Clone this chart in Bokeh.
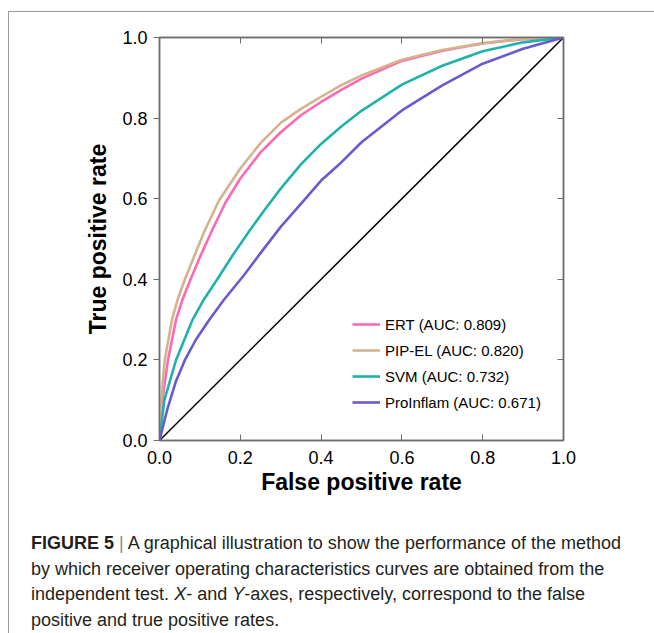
from bokeh.plotting import figure
from bokeh.layouts import column
from bokeh.models import (Range1d, FixedTicker, PrintfTickFormatter, LinearAxis,
                          Legend, LegendItem, Div)
from bokeh.embed import file_html
from bokeh.resources import INLINE

# ---------------- data ----------------
tick_values = [0.0, 0.2, 0.4, 0.6, 0.8, 1.0]

ert_fpr = [0, 0.007, 0.021, 0.041, 0.057, 0.077, 0.1, 0.13, 0.163, 0.2, 0.25, 0.3, 0.35, 0.4, 0.45, 0.5, 0.6, 0.7, 0.8, 0.9, 1.0]
ert_tpr = [0, 0.1, 0.2, 0.3, 0.35, 0.4, 0.455, 0.521, 0.59, 0.65, 0.715, 0.765, 0.807, 0.84, 0.87, 0.898, 0.942, 0.967, 0.985, 0.996, 1.0]

pip_fpr = [0, 0.004, 0.013, 0.031, 0.045, 0.063, 0.085, 0.112, 0.147, 0.2, 0.25, 0.3, 0.35, 0.4, 0.45, 0.5, 0.6, 0.7, 0.8, 0.9, 1.0]
pip_tpr = [0, 0.1, 0.2, 0.3, 0.35, 0.4, 0.455, 0.521, 0.595, 0.675, 0.738, 0.788, 0.823, 0.853, 0.882, 0.906, 0.945, 0.969, 0.986, 0.997, 1.0]

svm_fpr = [0, 0.012, 0.041, 0.081, 0.11, 0.143, 0.18, 0.221, 0.26, 0.3, 0.35, 0.4, 0.45, 0.5, 0.6, 0.7, 0.8, 0.9, 1.0]
svm_tpr = [0, 0.1, 0.2, 0.298, 0.35, 0.4, 0.458, 0.518, 0.572, 0.625, 0.685, 0.736, 0.779, 0.818, 0.883, 0.930, 0.966, 0.988, 1.0]

pro_fpr = [0, 0.02, 0.04, 0.063, 0.09, 0.122, 0.16, 0.209, 0.25, 0.3, 0.357, 0.4, 0.45, 0.5, 0.6, 0.7, 0.8, 0.9, 1.0]
pro_tpr = [0, 0.08, 0.145, 0.2, 0.25, 0.298, 0.35, 0.41, 0.465, 0.53, 0.595, 0.645, 0.69, 0.74, 0.819, 0.881, 0.935, 0.972, 1.0]

chance = [0.0, 1.0]

series_names = ["ERT (AUC: 0.809)", "PIP-EL (AUC: 0.820)", "SVM (AUC: 0.732)", "ProInflam (AUC: 0.671)"]
series_colors = ["#FF69B4", "#D2B48C", "#20B2AA", "#6A5ACD"]

caption_lines = [
    [("FIGURE 5", "bold"), (" ", "normal"), ("|", "bar"),
     (" A graphical illustration to show the performance of the method", "normal")],
    [("by which receiver operating characteristics curves are obtained from the", "normal")],
    [("independent test. ", "normal"), ("X", "italic"), ("- and ", "normal"), ("Y", "italic"),
     ("-axes, respectively, correspond to the false", "normal")],
    [("positive and true positive rates.", "normal")],
]

AX = "#6e6e6e"
FONT = "Liberation Sans"

# ---------------- chart ----------------
W = 645
p = figure(width=W, height=498, output_backend="svg", toolbar_location=None,
           x_range=Range1d(0, 1), y_range=Range1d(0, 1),
           min_border_left=150, min_border_right=91, min_border_top=25, min_border_bottom=70,
           x_axis_label="False positive rate", y_axis_label="True positive rate")
p.background_fill_color = "white"
p.border_fill_color = "white"
p.xgrid.visible = False
p.ygrid.visible = False
p.outline_line_color = AX
p.outline_line_width = 1.5

for ax in (p.xaxis[0], p.yaxis[0]):
    ax.ticker = FixedTicker(ticks=tick_values)
    ax.formatter = PrintfTickFormatter(format="%.1f")
    ax.axis_line_color = AX
    ax.axis_line_width = 1.5
    ax.major_tick_line_color = AX
    ax.major_tick_line_width = 1
    ax.minor_tick_line_color = None
    ax.major_label_text_font = FONT
    ax.major_label_text_font_size = "18px"
    ax.major_label_text_color = "black"
    ax.axis_label_text_font = FONT
    ax.axis_label_text_font_size = "23px"
    ax.axis_label_text_font_style = "bold"
    ax.axis_label_text_color = "black"

p.xaxis[0].major_tick_in = 6
p.xaxis[0].major_tick_out = 0
p.xaxis[0].major_label_standoff = 10
p.xaxis[0].axis_label_standoff = 2

p.yaxis[0].major_tick_in = 0
p.yaxis[0].major_tick_out = 6
p.yaxis[0].major_label_standoff = 6
p.yaxis[0].axis_label_standoff = 8

for loc in ("above", "right"):
    extra = LinearAxis(ticker=FixedTicker(ticks=tick_values), major_label_text_font_size="0px",
                       major_label_text_alpha=0, major_tick_in=6, major_tick_out=0,
                       minor_tick_line_color=None, axis_line_color=AX, axis_line_width=1.5,
                       major_tick_line_color=AX)
    p.add_layout(extra, loc)

# chance diagonal
p.line(chance, chance, line_color="black", line_width=1.5)

renderers = []
for fpr, tpr, col in [(ert_fpr, ert_tpr, series_colors[0]),
                      (pip_fpr, pip_tpr, series_colors[1]),
                      (svm_fpr, svm_tpr, series_colors[2]),
                      (pro_fpr, pro_tpr, series_colors[3])]:
    r = p.line(fpr, tpr, line_color=col, line_width=2.6, line_join="round")
    renderers.append(r)

legend = Legend(items=[LegendItem(label=n, renderers=[r]) for n, r in zip(series_names, renderers)],
                location=(193, 28), orientation="vertical")
legend.border_line_color = None
legend.background_fill_alpha = 0
legend.label_text_font = FONT
legend.label_text_font_size = "15px"
legend.label_text_color = "black"
legend.glyph_width = 28
legend.glyph_height = 20
legend.label_height = 20
legend.spacing = 6
legend.padding = 10
legend.margin = 0
legend.label_standoff = 5
p.add_layout(legend, "center")

# ---------------- caption (HTML text) ----------------
def span(txt, style):
    if style == "bold":
        return f"<b>{txt}</b>"
    if style == "italic":
        return f"<i>{txt}</i>"
    if style == "bar":
        return f'<span style="color:#8a8a8a">{txt}</span>'
    return txt

html_lines = ["".join(span(t, s) for t, s in line) for line in caption_lines]
caption_html = (
    f'<div style="font-family:\'{FONT}\'; font-size:18px; line-height:25.5px; color:#231f20; '
    f'padding-left:22px; padding-top:21px; white-space:pre; margin:0;">'
    + "<br>".join(html_lines) + "</div>"
)
cap = Div(text=caption_html, width=W, height=123, margin=(0, 0, 0, 0))

layout = column(p, cap, spacing=0)
layout.styles = {"margin-left": "8px", "margin-top": "11px",
                 "border-left": "1px solid #9a9a9a", "border-top": "1px solid #9a9a9a"}

open("out.html", "w").write(file_html(layout, INLINE))
